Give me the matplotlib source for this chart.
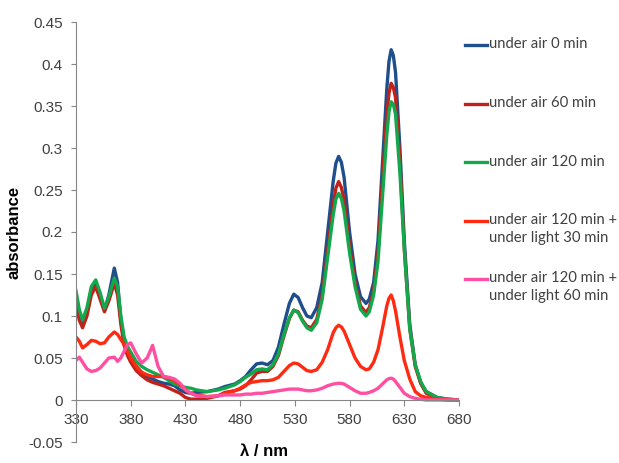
import numpy as np
import matplotlib
matplotlib.use('Agg')
import matplotlib.pyplot as plt
from matplotlib.lines import Line2D

# wavelength grid (nm)
wl = [330, 333, 336, 340, 344, 348, 352, 356, 360, 365, 368, 371, 374, 377, 380,
      385, 390, 395, 400, 405, 410, 415, 420, 425, 430, 435, 440, 450, 460, 466,
      475, 480, 485, 490, 495, 500, 505, 510, 515, 520, 525, 529, 533, 537, 541,
      545, 550, 555, 560, 565, 567.5, 570, 572.5, 575, 580, 585, 590, 595, 598, 602,
      606, 610, 614, 616, 618, 620, 622, 626, 630, 635, 640, 645, 650, 660, 670, 680]

air_0 = [0.12, 0.1, 0.09, 0.105, 0.13, 0.14, 0.125, 0.107, 0.125, 0.157, 0.14, 0.095, 0.07, 0.058, 0.05,
         0.04, 0.033, 0.028, 0.025, 0.022, 0.02, 0.019, 0.017, 0.012, 0.009, 0.008, 0.009, 0.01, 0.013, 0.016,
         0.019, 0.023, 0.028, 0.036, 0.043, 0.044, 0.042, 0.047, 0.063, 0.09, 0.115, 0.126, 0.122, 0.11, 0.1,
         0.098, 0.11, 0.14, 0.2, 0.26, 0.282, 0.29, 0.283, 0.265, 0.2, 0.15, 0.123, 0.115, 0.12, 0.14,
         0.19, 0.28, 0.37, 0.403, 0.417, 0.41, 0.39, 0.3, 0.19, 0.09, 0.042, 0.02, 0.01, 0.003, 0.001, 0.0]

air_60 = [0.113, 0.095, 0.086, 0.1, 0.125, 0.135, 0.12, 0.105, 0.118, 0.139, 0.125, 0.09, 0.065, 0.053, 0.045,
          0.035, 0.029, 0.024, 0.021, 0.019, 0.017, 0.014, 0.011, 0.008, 0.003, 0.001, 0.001, 0.002, 0.005, 0.009,
          0.011, 0.013, 0.017, 0.024, 0.032, 0.034, 0.034, 0.04, 0.053, 0.076, 0.097, 0.107, 0.105, 0.095, 0.088,
          0.086, 0.096, 0.125, 0.178, 0.232, 0.252, 0.26, 0.253, 0.238, 0.183, 0.14, 0.112, 0.104, 0.11, 0.13,
          0.175, 0.26, 0.34, 0.365, 0.377, 0.372, 0.36, 0.285, 0.18, 0.085, 0.04, 0.02, 0.008, 0.002, 0.0, 0.0]

air_120 = [0.13, 0.108, 0.095, 0.11, 0.135, 0.143, 0.128, 0.109, 0.123, 0.145, 0.135, 0.1, 0.075, 0.064, 0.057,
           0.046, 0.04, 0.036, 0.033, 0.03, 0.027, 0.023, 0.019, 0.017, 0.015, 0.014, 0.012, 0.01, 0.012, 0.014,
           0.018, 0.022, 0.027, 0.031, 0.036, 0.037, 0.036, 0.042, 0.055, 0.078, 0.098, 0.107, 0.104, 0.094, 0.086,
           0.083, 0.092, 0.12, 0.17, 0.22, 0.239, 0.246, 0.24, 0.225, 0.175, 0.135, 0.108, 0.1, 0.105, 0.125,
           0.165, 0.24, 0.315, 0.343, 0.355, 0.352, 0.34, 0.27, 0.18, 0.085, 0.042, 0.022, 0.01, 0.003, 0.001, 0.0]

light_30 = [0.075, 0.07, 0.062, 0.066, 0.071, 0.07, 0.067, 0.068, 0.075, 0.081, 0.078, 0.072, 0.066, 0.058, 0.05,
            0.04, 0.033, 0.03, 0.028, 0.028, 0.028, 0.026, 0.023, 0.018, 0.012, 0.008, 0.006, 0.004, 0.005, 0.008,
            0.011, 0.014, 0.018, 0.021, 0.022, 0.023, 0.023, 0.024, 0.027, 0.034, 0.041, 0.044, 0.043, 0.039, 0.035,
            0.034, 0.036, 0.045, 0.06, 0.08, 0.086, 0.089, 0.087, 0.082, 0.066, 0.05, 0.04, 0.036, 0.037, 0.045,
            0.06, 0.085, 0.112, 0.121, 0.125, 0.118, 0.106, 0.075, 0.047, 0.025, 0.01, 0.005, 0.003, 0.001, 0.0, 0.0]

light_60 = [0.047, 0.051, 0.045, 0.037, 0.034, 0.035, 0.038, 0.044, 0.05, 0.051, 0.046, 0.05, 0.058, 0.066, 0.068,
            0.055, 0.044, 0.05, 0.065, 0.04, 0.028, 0.027, 0.025, 0.02, 0.012, 0.008, 0.005, 0.004, 0.005, 0.006,
            0.006, 0.006, 0.007, 0.007, 0.008, 0.008, 0.009, 0.01, 0.011, 0.012, 0.013, 0.013, 0.013, 0.012, 0.011,
            0.011, 0.012, 0.014, 0.017, 0.019, 0.0195, 0.02, 0.0197, 0.019, 0.015, 0.011, 0.008, 0.008, 0.009, 0.011,
            0.014, 0.019, 0.024, 0.0255, 0.026, 0.025, 0.022, 0.015, 0.008, 0.004, 0.002, 0.001, 0.0, 0.0, 0.0, 0.0]

labels = ['under air 0 min', 'under air 60 min', 'under air 120 min',
          'under air 120 min +\nunder light 30 min', 'under air 120 min +\nunder light 60 min']
colors = ['#1F4E8C', '#C0221A', '#14A84C', '#FF2A12', '#FF4FA3']

x_ticks = [330, 380, 430, 480, 530, 580, 630, 680]
y_ticks = [-0.05, 0, 0.05, 0.1, 0.15, 0.2, 0.25, 0.3, 0.35, 0.4, 0.45]
y_tick_labels = ['-0.05', '0', '0.05', '0.1', '0.15', '0.2', '0.25', '0.3', '0.35', '0.4', '0.45']

series = [air_0, air_60, air_120, light_30, light_60]

fig = plt.figure(figsize=(6.19, 4.63), dpi=100)
ax = fig.add_axes([76 / 619, 1 - 442 / 463, 383 / 619, 420 / 463])

for vals, col in zip(series, colors):
    ax.plot(wl, vals, color=col, lw=2.4, solid_joinstyle='round')

ax.set_xlim(330, 680)
ax.set_ylim(-0.05, 0.45)

grey = '#868686'
txt = '#404040'
for s in ['top', 'right']:
    ax.spines[s].set_visible(False)
ax.spines['bottom'].set_position(('data', 0))
for s in ['left', 'bottom']:
    ax.spines[s].set_color(grey)
    ax.spines[s].set_linewidth(0.8)

ax.set_xticks(x_ticks)
ax.set_xticklabels([str(t) for t in x_ticks], fontsize=11, color=txt, family='Liberation Sans')
ax.set_yticks(y_ticks)
ax.set_yticklabels(y_tick_labels, fontsize=11, color=txt, family='Liberation Sans')
ax.tick_params(axis='x', length=4, pad=5, color=grey, width=0.8)
ax.tick_params(axis='y', length=3.5, pad=6, color=grey, width=0.8)

ax.set_ylabel('absorbance', fontsize=12, weight='bold', family='Liberation Sans')
ax.yaxis.set_label_coords(-0.1436, 0.5)
fig.text(264 / 619, 1 - 452 / 463, 'λ / nm', ha='center', va='center',
         fontsize=12, weight='bold', family='Liberation Sans')

# legend, Excel-like, first lines evenly spaced
leg_y = [45, 103.5, 162, 220.5, 279]
for lab, col, yy in zip(labels, colors, leg_y):
    yf = 1 - yy / 463
    fig.add_artist(Line2D([465 / 619, 487 / 619], [yf, yf], color=col, lw=2.4))
    fig.text(489 / 619, yf + 7.5 / 463, lab, ha='left', va='top', fontsize=10.7,
             color=txt, family='Lato', linespacing=1.35)

fig.savefig('out.png', dpi=100)
